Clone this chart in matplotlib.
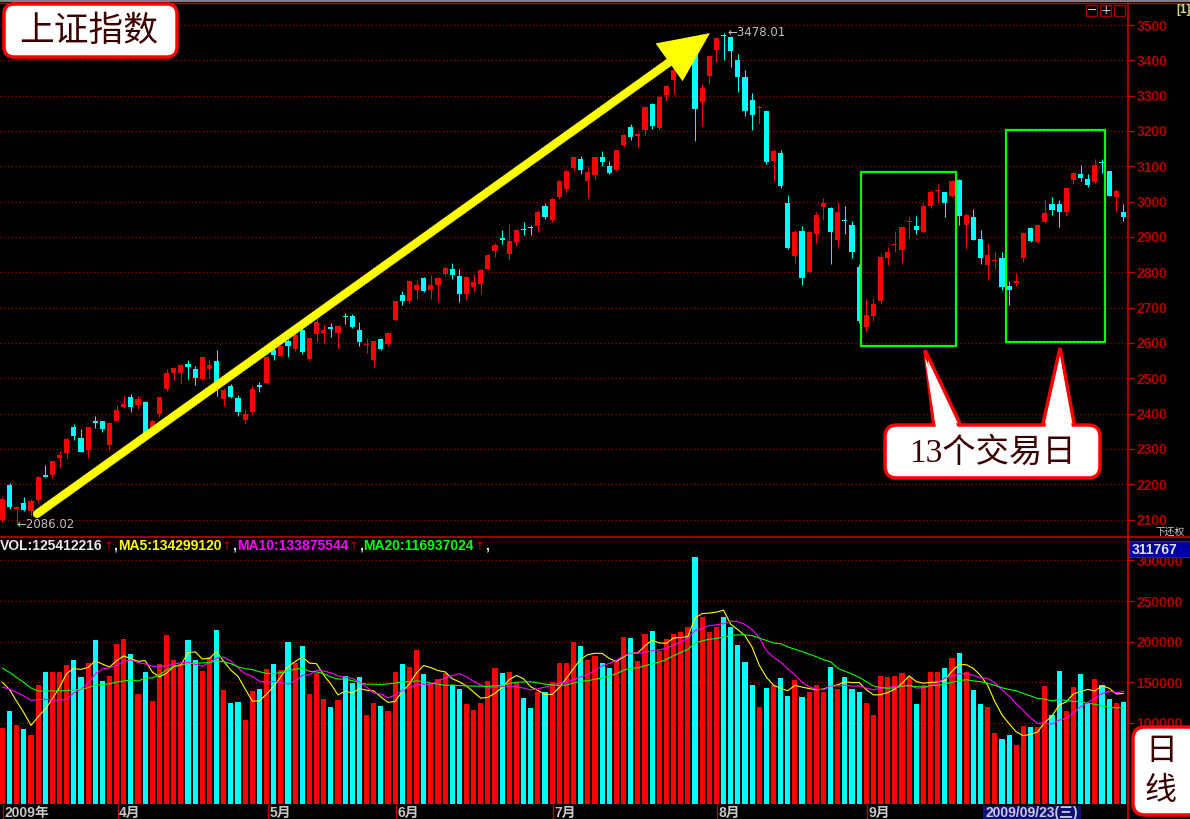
import matplotlib
matplotlib.use('Agg')
import matplotlib.pyplot as plt
from matplotlib.patches import FancyBboxPatch, Rectangle, Polygon, FancyArrowPatch
from matplotlib.transforms import blended_transform_factory
import numpy as np
import pandas as pd

W, H, DPI = 1190, 819, 100

opens = [2100, 2199, 2130, 2147, 2123, 2156, 2227, 2227, 2273, 2289,
         2361, 2331, 2296, 2380, 2378, 2312, 2380, 2418, 2446, 2423,
         2433, 2350, 2400, 2469, 2516, 2514, 2541, 2525, 2499, 2525,
         2548, 2440, 2478, 2444, 2383, 2404, 2481, 2487, 2579, 2562,
         2606, 2582, 2637, 2555, 2625, 2628, 2644, 2628, 2676, 2675,
         2636, 2593, 2551, 2611, 2597, 2664, 2735, 2718, 2750, 2783,
         2750, 2764, 2794, 2810, 2789, 2739, 2759, 2766, 2808, 2859,
         2897, 2851, 2887, 2923, 2928, 2930, 2989, 2948, 3013, 3037,
         3094, 3121, 3058, 3075, 3125, 3100, 3089, 3159, 3210, 3187,
         3203, 3276, 3208, 3302, 3344, 3377, 3390, 3419, 3283, 3356,
         3430, 3472, 3465, 3400, 3353, 3288, 3264, 3257, 3114, 3139,
         2995, 2847, 2917, 2800, 2908, 2985, 2983, 2892, 2948, 2935,
         2815, 2645, 2676, 2718, 2839, 2876, 2864, 2942, 2932, 2913,
         2989, 3029, 3027, 3015, 3062, 2935, 2956, 2894, 2821, 2833,
         2840, 2761, 2771, 2840, 2925, 2887, 2943, 2992, 2992, 2972,
         3060, 3079, 3065, 3055, 3112, 3086, 3013, 2972]
highs = [2165, 2202, 2137, 2163, 2158, 2224, 2255, 2267, 2295, 2331,
         2369, 2355, 2362, 2392, 2380, 2374, 2423, 2451, 2456, 2450,
         2436, 2382, 2448, 2525, 2532, 2541, 2552, 2535, 2561, 2554,
         2579, 2473, 2483, 2453, 2412, 2478, 2490, 2563, 2585, 2594,
         2612, 2642, 2642, 2614, 2673, 2650, 2656, 2650, 2684, 2682,
         2658, 2614, 2606, 2613, 2630, 2720, 2747, 2777, 2777, 2787,
         2792, 2786, 2818, 2826, 2810, 2789, 2796, 2808, 2853, 2883,
         2920, 2937, 2922, 2943, 2935, 2977, 2997, 3010, 3062, 3090,
         3127, 3130, 3100, 3127, 3142, 3114, 3147, 3191, 3221, 3197,
         3270, 3280, 3300, 3330, 3405, 3425, 3430, 3423, 3334, 3416,
         3466, 3478.01, 3469, 3419, 3374, 3308, 3274, 3260, 3149, 3147,
         3020, 2920, 2931, 2917, 2971, 3009, 2985, 3000, 2988, 2946,
         2822, 2725, 2728, 2853, 2872, 2918, 2929, 2960, 2958, 2996,
         3032, 3049, 3027, 3062, 3065, 2967, 2979, 2921, 2884, 2861,
         2856, 2775, 2799, 2913, 2929, 2935, 3008, 3013, 3005, 3038,
         3084, 3103, 3079, 3122, 3122, 3088, 3036, 2992]
lows = [2092, 2131, 2086.02, 2123, 2109, 2149, 2220, 2218, 2249, 2273,
        2325, 2291, 2273, 2359, 2347, 2296, 2378, 2416, 2404, 2412,
        2336, 2345, 2390, 2464, 2495, 2483, 2497, 2481, 2495, 2497,
        2450, 2421, 2445, 2393, 2371, 2400, 2461, 2485, 2552, 2559,
        2559, 2578, 2570, 2550, 2602, 2601, 2617, 2583, 2654, 2643,
        2590, 2571, 2531, 2580, 2590, 2662, 2707, 2712, 2723, 2745,
        2723, 2716, 2788, 2782, 2716, 2723, 2747, 2739, 2805, 2842,
        2880, 2837, 2875, 2905, 2905, 2913, 2951, 2943, 3008, 3027,
        3086, 3079, 3011, 3065, 3100, 3078, 3086, 3156, 3175, 3156,
        3189, 3206, 3203, 3286, 3304, 3375, 3380, 3172, 3213, 3332,
        3395, 3402, 3381, 3311, 3241, 3203, 3220, 3107, 3058, 3039,
        2866, 2826, 2763, 2797, 2882, 2949, 2824, 2872, 2908, 2839,
        2655, 2633, 2661, 2711, 2821, 2856, 2827, 2897, 2908, 2910,
        2982, 2997, 2956, 3013, 2935, 2867, 2890, 2823, 2777, 2808,
        2749, 2706, 2761, 2830, 2887, 2882, 2939, 2963, 2928, 2958,
        3051, 3058, 3041, 3053, 3081, 3015, 2970, 2946]
closes = [2158, 2135, 2135, 2126, 2153, 2219, 2221, 2265, 2282, 2327,
          2336, 2291, 2361, 2372, 2355, 2372, 2409, 2426, 2418, 2440,
          2344, 2380, 2446, 2514, 2528, 2537, 2532, 2502, 2559, 2537,
          2469, 2466, 2447, 2404, 2400, 2469, 2475, 2561, 2565, 2592,
          2590, 2623, 2574, 2614, 2658, 2636, 2640, 2648, 2673, 2645,
          2602, 2596, 2604, 2582, 2628, 2718, 2718, 2775, 2764, 2747,
          2764, 2784, 2813, 2791, 2739, 2787, 2772, 2806, 2849, 2877,
          2891, 2889, 2920, 2921, 2926, 2972, 2956, 3006, 3057, 3088,
          3125, 3089, 3083, 3125, 3111, 3080, 3145, 3189, 3182, 3191,
          3268, 3213, 3297, 3327, 3372, 3416, 3420, 3262, 3322, 3411,
          3463, 3468, 3426, 3353, 3257, 3245, 3268, 3111, 3142, 3044,
          2869, 2915, 2784, 2915, 2961, 2995, 2915, 2971, 2946, 2856,
          2661, 2678, 2709, 2842, 2858, 2878, 2929, 2944, 2920, 2989,
          3027, 3031, 2996, 3057, 2960, 2963, 2892, 2839, 2849, 2835,
          2758, 2749, 2775, 2911, 2889, 2935, 2968, 2975, 2972, 3038,
          3082, 3067, 3046, 3105, 3108, 3017, 3029, 2956]
# volume in thousands of shares (axis units)
volumes = [94, 115, 97, 93, 85, 147, 162, 162, 162, 171,
           177, 157, 174, 202, 152, 158, 197, 203, 185, 136,
           162, 127, 173, 208, 177, 172, 202, 178, 164, 181,
           214, 141, 124, 126, 104, 139, 142, 166, 173, 165,
           199, 174, 195, 135, 161, 129, 119, 128, 158, 149,
           156, 110, 124, 121, 115, 162, 172, 169, 190, 160,
           149, 154, 161, 147, 142, 123, 116, 124, 152, 167,
           161, 162, 150, 131, 118, 138, 138, 150, 174, 174,
           199, 195, 178, 182, 174, 167, 177, 206, 205, 176,
           210, 213, 188, 203, 209, 212, 218, 304, 230, 212,
           218, 230, 218, 196, 175, 147, 120, 143, 147, 155,
           133, 153, 132, 138, 147, 138, 169, 142, 157, 142,
           138, 125, 110, 158, 156, 158, 161, 156, 123, 146,
           163, 163, 167, 180, 186, 162, 140, 123, 119, 87,
           80, 85, 73, 96, 95, 95, 145, 110, 164, 115,
           144, 160, 123, 154, 147, 129, 125, 125.412]
# volumes of the 19 sessions before the window (only feed the moving averages)
pre_volumes = [220, 225, 215, 220, 220, 165, 160, 158, 165, 160,
               140, 136, 138, 140, 136, 160, 170, 162, 164]

month_labels = ['2009年', '4月', '5月', '6月', '7月', '8月', '9月']
month_index = [0, 16, 37, 55, 77, 100, 121]
price_ticks = list(range(2100, 3501, 100))
vol_ticks = [100000, 150000, 200000, 250000, 300000]

RED = '#ff0000'
CYAN = '#00ffff'
GRID = '#a00000'
AXRED = '#c00000'
LBL = '#b00000'

n = len(closes)
x = np.arange(n)
o = np.array(opens, float); c = np.array(closes, float)
hi = np.array(highs, float); lo = np.array(lows, float)
vol = np.array(volumes) * 1000
up = c >= o
cols = np.where(up, RED, CYAN)

fig = plt.figure(figsize=(W / DPI, H / DPI), dpi=DPI, facecolor='black')

def rect(px0, py0, px1, py1):
    return [px0 / W, 1 - py1 / H, (px1 - px0) / W, (py1 - py0) / H]

XL = (-0.336, 157.65)

ax = fig.add_axes(rect(0, 3, 1128, 537), facecolor='black')
axv = fig.add_axes(rect(0, 537, 1128, 804), facecolor='black')
ov = fig.add_axes([0, 0, 1, 1], facecolor='none')
ov.set_xlim(0, W); ov.set_ylim(H, 0); ov.axis('off')
ov.set_zorder(5)

# ---- candles
ax.set_xlim(*XL)
ax.set_ylim(2050.5, 3562.3)
ax.vlines(x, lo, hi, colors=cols, lw=0.75, zorder=3)
body_bot = np.minimum(o, c)
body_h = np.maximum(np.abs(c - o), 2.8)
ax.bar(x, body_h, bottom=body_bot, width=0.72, color=cols, lw=0, zorder=4)

for a in (ax, axv):
    for s in ('left', 'top', 'bottom'):
        a.spines[s].set_visible(False)
    a.spines['right'].set_color(AXRED)
    a.spines['right'].set_linewidth(1.2)
    a.yaxis.tick_right()
    a.tick_params(axis='y', colors=AXRED, length=4, width=1, pad=2,
                  labelcolor=LBL, labelsize=10)
    a.tick_params(axis='x', bottom=False, labelbottom=False)
    a.grid(axis='y', color=GRID, linestyle=(0, (1, 2)), lw=0.9)
    a.set_axisbelow(True)

ax.set_yticks(price_ticks)
ax.set_yticklabels([str(p) for p in price_ticks], fontweight='bold',
                   family='Liberation Sans')

# ---- volume
axv.set_xlim(*XL)
axv.set_ylim(0, 328900)
axv.bar(x, vol, width=0.72, color=cols, lw=0, zorder=3)
allv = pd.Series(np.concatenate([np.array(pre_volumes) * 1000, vol]))
npre = len(pre_volumes)
for win, colr in ((5, '#ffff00'), (10, '#ff00ff'), (20, '#00ff00')):
    ma = allv.rolling(win).mean().values[npre:]
    axv.plot(x, ma, color=colr, lw=0.8, zorder=4)
axv.set_yticks(vol_ticks)
axv.set_yticklabels([str(v) for v in vol_ticks], fontweight='bold',
                    family='Liberation Sans')

# ---- frame lines
ov.plot([0, W], [0.5, 0.5], color='#808080', lw=1.5)
ov.plot([0, W], [2.5, 2.5], color=AXRED, lw=1)
ov.plot([0, W], [537, 537], color=AXRED, lw=1.2)
ov.plot([1128, 1128], [537, 819], color=AXRED, lw=1.2)

# ---- yellow trend arrow
ARROW_FROM = (4.85, 2116)
ARROW_TO = (99.1, 3477)
arr = FancyArrowPatch(ARROW_FROM, ARROW_TO,
                      arrowstyle='-|>,head_length=26,head_width=12',
                      mutation_scale=1, lw=6, color='#ffff00',
                      capstyle='round', joinstyle='miter', zorder=6,
                      shrinkA=0, shrinkB=0)
ax.add_patch(arr)

# ---- green boxes
BOX1 = (120.2, 2591, 133.6, 3084)
BOX2 = (140.5, 2603, 154.4, 3203)
for bx0, by0, bx1, by1 in (BOX1, BOX2):
    ax.add_patch(Rectangle((bx0, by0), bx1 - bx0, by1 - by0, fill=False,
                           ec='#00ff00', lw=1.6, zorder=5))

# ---- hi/lo labels
ax.text(101.6, 3478.01, '←3478.01', color='#c0c0c0', fontsize=8.5,
        va='center', ha='left', family='DejaVu Sans', zorder=6)
ax.text(2.0, 2086.02, '←2086.02', color='#c0c0c0', fontsize=8.5,
        va='center', ha='left', family='DejaVu Sans', zorder=6)

# ---- volume header (laid out piece by piece)
hdr = [('VOL:125412216', '#e8e8e8'), ('↑', AXRED), (',', '#e8e8e8'),
       ('MA5:134299120', '#ffff00'), ('↑', AXRED), (',', '#e8e8e8'),
       ('MA10:133875544', '#ff00ff'), ('↑', AXRED), (',', '#e8e8e8'),
       ('MA20:116937024', '#00ff00'), ('↑', AXRED), (',', '#e8e8e8')]
renderer = fig.canvas.get_renderer()
cur = 0.0
inv = ov.transData.inverted()
for s, colr in hdr:
    if s == '↑':
        t = ov.text(cur, 546, s, color=colr, fontsize=8.5,
                    family=['DejaVu Sans'], va='center', ha='left')
    else:
        t = ov.text(cur, 545.5, s, color=colr, fontsize=10, fontweight='bold',
                    family=['Liberation Sans', 'DejaVu Sans'], va='center', ha='left')
    bb = t.get_window_extent(renderer=renderer)
    cur = inv.transform((bb.x1, bb.y0))[0] + 0.5

# ---- right panel labels
ov.add_patch(Rectangle((1129, 541), 61, 16, fc='#0000a0', ec='#2020c0', lw=0.8))
ov.text(1132, 549.5, '311767', color='#e0e0e0', fontsize=10, fontweight='bold',
        family='Liberation Sans', va='center', ha='left')
ov.text(1156, 531.5, '下还权', color='#d0d0d0', fontsize=7,
        family=['Noto Sans CJK SC'], va='center', ha='left')
for i, sym in enumerate(['−', '+', '']):
    x0 = 1086 + i * 14
    ov.add_patch(Rectangle((x0, 5), 11, 11, fill=False, ec='#a00000', lw=1))
    if sym:
        ov.text(x0 + 5.5, 10.5, sym, color='#d0d0d0', fontsize=9,
                va='center', ha='center', family='DejaVu Sans')
ov.text(1176, 10, '[1]', color='#d8d878', fontsize=8.5, fontweight='bold',
        va='center', ha='left', family='Liberation Sans')

# ---- date strip
tr = blended_transform_factory(axv.transData, ov.transData)
for lab, mi in zip(month_labels, month_index):
    ov.plot([mi + 0.15, mi + 0.15], [805, 819], color=AXRED, lw=1, transform=tr)
    ov.text(mi + 0.35, 812.5, lab, color='#c8c8c8', fontsize=10,
            fontweight='bold', family=['Liberation Sans', 'Noto Sans CJK SC'],
            va='center', ha='left', transform=tr)
ov.add_patch(Rectangle((983, 806), 98, 13, fc='#101070', ec='none'))
ov.text(985, 812.5, '2009/09/23(三)', color='#c8c8e8', fontsize=10,
        fontweight='bold', family=['Liberation Sans', 'Noto Sans CJK SC'],
        va='center', ha='left')

# ---- callout boxes
CJK = ['Liberation Serif', 'Noto Sans CJK SC']
def rbox(x0, y0, x1, y1, r=10):
    ov.add_patch(FancyBboxPatch((x0, y0), x1 - x0, y1 - y0,
                                boxstyle=f'round,pad=0,rounding_size={r}',
                                fc='white', ec='#ff0000', lw=2.5, zorder=3))

rbox(4, 4, 177, 57)
ov.text(89, 32, '上证指数', color='#3a0000', fontsize=25, family=CJK,
        ha='center', va='center', zorder=4)

ptr1 = [(934, 428), (925, 350), (962, 428)]
ptr2 = [(1042, 428), (1060, 348), (1075, 428)]
for p in (ptr1, ptr2):
    ov.add_patch(Polygon(p, closed=True, fc='white', ec='#ff0000', lw=2.5, zorder=2))
rbox(885, 425, 1100, 478, r=12)
for p in (ptr1, ptr2):
    (ax0, ay0), (tx, ty), (bx0, by0) = p
    inner = [(ax0 + 2.5, ay0 + 3), (tx, ty + 8), (bx0 - 2.5, by0 + 3)]
    ov.add_patch(Polygon(inner, closed=True, fc='white', ec='none', zorder=3.5))
ov.text(992, 453, '13个交易日', color='#3a0000', fontsize=24, family=CJK,
        ha='center', va='center', zorder=4)

rbox(1133, 727, 1200, 815, r=12)
ov.text(1161, 752, '日', color='#3a0000', fontsize=23, family=CJK,
        ha='center', va='center', zorder=4)
ov.text(1161, 791, '线', color='#3a0000', fontsize=23, family=CJK,
        ha='center', va='center', zorder=4)

fig.savefig('out.png', dpi=DPI, facecolor='black')
